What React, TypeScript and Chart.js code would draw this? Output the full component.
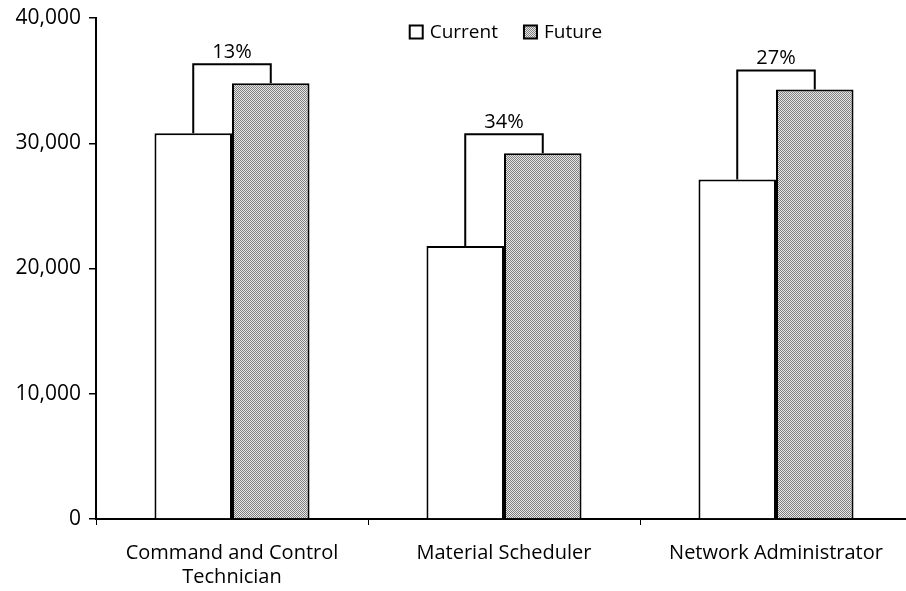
import { useEffect, useRef } from 'react';
import { Chart, registerables } from 'chart.js';

Chart.register(...registerables);

// Occupations compared, current vs. future pay
const categories: (string | string[])[] = [
  ['Command and Control', 'Technician'],
  'Material Scheduler',
  'Network Administrator',
];
const seriesNames = ['Current', 'Future'];
const currentValues = [30800, 21800, 27100];
const futureValues = [34800, 29200, 34300];
const yMin = 0;
const yMax = 40000;
const yStep = 10000;

const FONT = '"Open Sans", sans-serif';
const FONT_SIZE = 20;

// Fine gray stipple used for the "Future" bars
function makeStipple(): CanvasPattern | string {
  const c = document.createElement('canvas');
  c.width = 2;
  c.height = 2;
  const g = c.getContext('2d');
  if (!g) return '#bbbbbb';
  g.fillStyle = '#e6e6e6';
  g.fillRect(0, 0, 2, 2);
  g.fillStyle = '#808080';
  g.fillRect(0, 0, 1, 1);
  g.fillRect(1, 1, 1, 1);
  const p = g.createPattern(c, 'repeat');
  return p ?? '#bbbbbb';
}

// Draws the bracket joining each pair of bars and the percent change above it
const growthBrackets = {
  id: 'growthBrackets',
  afterDatasetsDraw(chart: any) {
    const ctx = chart.ctx as CanvasRenderingContext2D;
    const cur = chart.getDatasetMeta(0).data;
    const fut = chart.getDatasetMeta(1).data;
    ctx.save();
    ctx.strokeStyle = '#000';
    ctx.lineWidth = 2;
    ctx.fillStyle = '#000';
    ctx.font = `${FONT_SIZE}px ${FONT}`;
    ctx.textAlign = 'center';
    ctx.textBaseline = 'bottom';
    for (let i = 0; i < categories.length; i++) {
      const a = cur[i];
      const b = fut[i];
      const top = Math.min(a.y, b.y) - 19;
      ctx.beginPath();
      ctx.moveTo(a.x, a.y);
      ctx.lineTo(a.x, top);
      ctx.lineTo(b.x, top);
      ctx.lineTo(b.x, b.y);
      ctx.stroke();
      const pct = Math.round(((futureValues[i] - currentValues[i]) / currentValues[i]) * 100);
      ctx.fillText(`${pct}%`, (a.x + b.x) / 2, top - 2);
    }
    ctx.restore();
  },
};

// Legend drawn inside the top of the plot area, centered on it
const insideLegend = {
  id: 'insideLegend',
  afterDraw(chart: any) {
    const ctx = chart.ctx as CanvasRenderingContext2D;
    const area = chart.chartArea;
    const box = 13;
    const boxGap = 7;
    const itemGap = 26;
    ctx.save();
    ctx.font = `19px ${FONT}`;
    const widths = chart.data.datasets.map((d: any) => box + boxGap + ctx.measureText(d.label).width);
    const total = widths.reduce((s: number, w: number) => s + w, 0) + itemGap * (widths.length - 1);
    let x = (area.left + area.right) / 2 + 2 - total / 2;
    const cy = area.top + 14;
    chart.data.datasets.forEach((d: any, i: number) => {
      ctx.fillStyle = d.backgroundColor;
      ctx.fillRect(x, cy - box / 2, box, box);
      ctx.strokeStyle = '#000';
      ctx.lineWidth = 2;
      ctx.strokeRect(x, cy - box / 2, box, box);
      ctx.fillStyle = '#000';
      ctx.textAlign = 'left';
      ctx.textBaseline = 'middle';
      ctx.fillText(d.label, x + box + boxGap, cy + 1);
      x += widths[i] + itemGap;
    });
    ctx.restore();
  },
};

export default function App() {
  const ref = useRef<HTMLCanvasElement>(null);

  useEffect(() => {
    if (!ref.current) return;
    const stipple = makeStipple();
    const chart = new Chart(ref.current, {
      type: 'bar',
      data: {
        labels: categories,
        datasets: [
          {
            label: seriesNames[0],
            data: currentValues,
            backgroundColor: '#ffffff',
            borderColor: '#000000',
            borderWidth: 2,
          },
          {
            label: seriesNames[1],
            data: futureValues,
            backgroundColor: stipple as any,
            borderColor: '#000000',
            borderWidth: 2,
          },
        ],
      },
      options: {
        animation: false,
        responsive: false,
        datasets: {
          bar: { barPercentage: 1, categoryPercentage: 0.57 },
        },
        layout: { padding: { top: 18, right: 0, left: 0, bottom: 0 } },
        plugins: {
          tooltip: { enabled: false },
          legend: { display: false },
        },
        scales: {
          x: {
            afterFit(scale: any) {
              scale.height = 72;
            },
            grid: {
              display: true,
              drawOnChartArea: false,
              drawTicks: true,
              tickLength: 6,
              color: '#000',
              lineWidth: 1,
              offset: true,
            },
            border: { display: true, color: '#000', width: 2 },
            ticks: {
              color: '#000',
              padding: 16,
              maxRotation: 0,
              font: { family: FONT, size: FONT_SIZE, lineHeight: 1.2 },
            },
          },
          y: {
            min: yMin,
            max: yMax,
            afterFit(scale: any) {
              scale.width = 96;
              scale.paddingTop = 0;
              scale.paddingBottom = 0;
            },
            grid: {
              display: true,
              drawOnChartArea: false,
              drawTicks: true,
              tickLength: 7,
              color: '#000',
              lineWidth: 1.5,
            },
            border: { display: true, color: '#000', width: 2 },
            ticks: {
              stepSize: yStep,
              color: '#000',
              padding: 8,
              font: { family: FONT, size: 21 },
              callback: (v: any) => Number(v).toLocaleString('en-US'),
            },
          },
        },
      },
      plugins: [growthBrackets, insideLegend],
    });
    return () => chart.destroy();
  }, []);

  return (
    <div
      style={{
        position: 'fixed',
        left: 0,
        top: 0,
        width: 906,
        height: 591,
        overflow: 'hidden',
        background: '#fff',
      }}
    >
      <canvas ref={ref} width={912} height={591} />
    </div>
  );
}
